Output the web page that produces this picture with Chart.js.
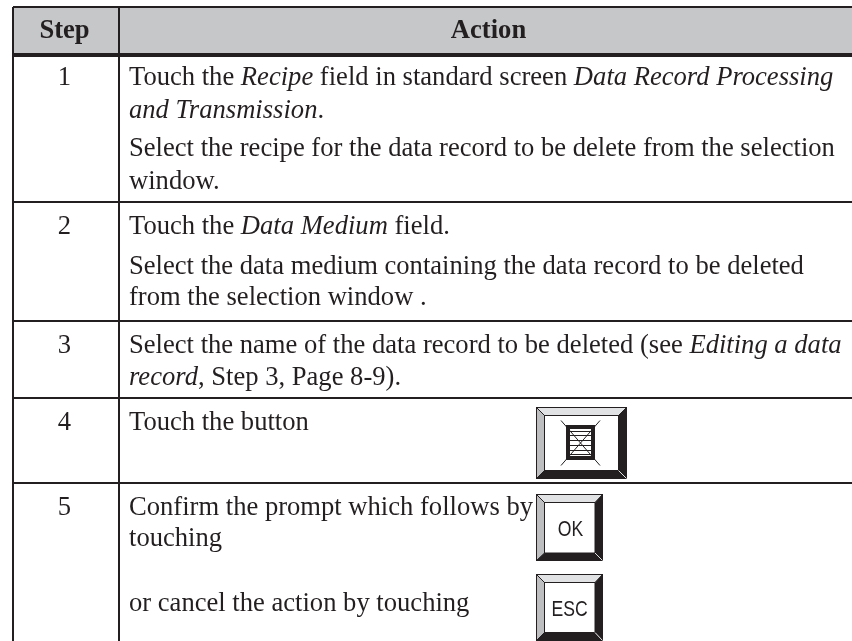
<!DOCTYPE html>
<html>
<head>
<meta charset="utf-8">
<title>Step / Action</title>
<script src="https://cdn.jsdelivr.net/npm/chart.js@4"></script>
<style>
  body { margin: 0; background: #fff; }
  canvas { display: block; }
</style>
</head>
<body>
<canvas id="table" width="852" height="641"></canvas>
<script>
// Contents of the table (*...* marks italic text)
const headers = ['Step', 'Action'];
const steps = ['1', '2', '3', '4', '5'];
const actions1 = [
    'Touch the *Recipe* field in standard screen *Data Record Processing*',
    '*and Transmission*.',
    'Select the recipe for the data record to be delete from the selection',
    'window.'
];
const actions2 = [
    'Touch the *Data Medium* field.',
    'Select the data medium containing the data record to be deleted',
    'from the selection window .'
];
const actions3 = [
    'Select the name of the data record to be deleted (see *Editing a data*',
    '*record*, Step 3, Page 8-9).'
];
const actions4 = ['Touch the button'];
const actions5 = [
    'Confirm the prompt which follows by',
    'touching',
    'or cancel the action by touching'
];
const buttonLabels = ['OK', 'ESC'];

// Page layout in pixels of the scanned page
const columnEdges = [13, 119];
const rowEdges = [7, 55, 202, 321, 398, 483];
const headerBaseline = 37.5;
const stepBaselines = [84.5, 233.5, 352.5, 429.5, 514.5];
const actionBaselines = [
    [84.5, 117.5, 155.5, 188.5],
    [233.5, 273.5, 304.5],
    [352.5, 384.5],
    [429.5],
    [514.5, 545.5, 611]
];
const INK = '#231f20';
const FONT = '"Liberation Serif"';
const FONT_SIZE = 26.6;

const rows = [actions1, actions2, actions3, actions4, actions5];

// Writes a line, switching to italic for the parts between asterisks
function drawRuns(ctx, text, x, y) {
    text.split('*').forEach((part, i) => {
        ctx.font = (i % 2 ? 'italic ' : '') + FONT_SIZE + 'px ' + FONT;
        ctx.fillText(part, x, y);
        x += ctx.measureText(part).width;
    });
}

function bevelButton(ctx, sx, sy, o, n, icon) {
    const X = v => sx.getPixelForValue(v);
    const Y = v => sy.getPixelForValue(v);
    const poly = (pts, color) => {
        ctx.beginPath();
        pts.forEach((p, i) => i ? ctx.lineTo(X(p[0]), Y(p[1])) : ctx.moveTo(X(p[0]), Y(p[1])));
        ctx.closePath();
        ctx.fillStyle = color;
        ctx.fill();
    };
    poly([[o.l, o.t], [o.r, o.t], [n.r, n.t], [n.l, n.t]], '#e1e2e3'); // top
    poly([[o.l, o.t], [n.l, n.t], [n.l, n.b], [o.l, o.b]], '#bcbec0'); // left
    poly([[o.r, o.t], [o.r, o.b], [n.r, n.b], [n.r, n.t]], INK);       // right
    poly([[o.l, o.b], [n.l, n.b], [n.r, n.b], [o.r, o.b]], INK);       // bottom
    ctx.strokeStyle = INK;
    ctx.lineWidth = 1;
    ctx.strokeRect(X(o.l), Y(o.t), X(o.r) - X(o.l), Y(o.b) - Y(o.t));
    ctx.strokeRect(X(n.l), Y(n.t), X(n.r) - X(n.l), Y(n.b) - Y(n.t));
    [[o.l, o.t, n.l, n.t], [o.r, o.t, n.r, n.t], [o.l, o.b, n.l, n.b], [o.r, o.b, n.r, n.b]].forEach(d => {
        ctx.strokeStyle = d[3] === n.b && d[2] === n.r ? '#e1e2e3' : INK;
        ctx.beginPath();
        ctx.moveTo(X(d[0]), Y(d[1]));
        ctx.lineTo(X(d[2]), Y(d[3]));
        ctx.stroke();
    });
    if (icon) icon(X, Y);
}

// Narrowed sans text for the button captions
function buttonLabel(ctx, text, x, y) {
    ctx.save();
    ctx.translate(x, y);
    ctx.scale(0.8, 1);
    ctx.fillText(text, 0, 0);
    ctx.restore();
}

const tablePlugin = {
    id: 'tableText',
    afterDraw(chart) {
        const { ctx, scales: { x, y } } = chart;
        ctx.save();
        ctx.fillStyle = INK;
        ctx.textBaseline = 'alphabetic';

        // header
        ctx.textAlign = 'center';
        ctx.font = 'bold ' + FONT_SIZE + 'px ' + FONT;
        ctx.fillText(headers[0], x.getPixelForValue(64.5), y.getPixelForValue(headerBaseline));
        ctx.fillText(headers[1], x.getPixelForValue(488.5), y.getPixelForValue(headerBaseline));

        // step numbers
        ctx.font = FONT_SIZE + 'px ' + FONT;
        steps.forEach((s, i) => ctx.fillText(s, x.getPixelForValue(64.5), y.getPixelForValue(stepBaselines[i])));

        // action text
        ctx.textAlign = 'left';
        rows.forEach((lines, i) => {
            lines.forEach((line, j) => {
                drawRuns(ctx, line, x.getPixelForValue(129), y.getPixelForValue(actionBaselines[i][j]));
            });
        });

        // delete button with its crossed out icon
        bevelButton(ctx, x, y,
            { l: 536.5, t: 407.5, r: 626.5, b: 478.5 },
            { l: 544.5, t: 415.5, r: 618.5, b: 470.5 },
            (X, Y) => {
                ctx.strokeStyle = INK;
                ctx.lineWidth = 4;
                ctx.strokeRect(X(568), Y(427), X(593) - X(568), Y(458) - Y(427));
                ctx.lineWidth = 1;
                [431, 435, 440, 445, 450, 454].forEach(v => {
                    ctx.beginPath();
                    ctx.moveTo(X(570), Y(v) + 0.5);
                    ctx.lineTo(X(591), Y(v) + 0.5);
                    ctx.stroke();
                });
                ctx.beginPath();
                ctx.moveTo(X(561), Y(420.5));
                ctx.lineTo(X(600), Y(465.5));
                ctx.moveTo(X(600), Y(420.5));
                ctx.lineTo(X(561), Y(465.5));
                ctx.stroke();
            });

        // OK and ESC buttons
        bevelButton(ctx, x, y,
            { l: 536.5, t: 494.5, r: 602.5, b: 560.5 },
            { l: 544.5, t: 502.5, r: 595, b: 553 });
        bevelButton(ctx, x, y,
            { l: 536.5, t: 574.5, r: 602.5, b: 640.5 },
            { l: 544.5, t: 582.5, r: 595, b: 632.5 });
        ctx.fillStyle = INK;
        ctx.textAlign = 'center';
        ctx.font = '22px "Liberation Sans"';
        buttonLabel(ctx, buttonLabels[0], x.getPixelForValue(570.5), y.getPixelForValue(536));
        buttonLabel(ctx, buttonLabels[1], x.getPixelForValue(569.5), y.getPixelForValue(615.5));
        ctx.restore();
    }
};

new Chart(document.getElementById('table'), {
    type: 'scatter',
    data: {
        datasets: [{
            // grey header band
            data: [{ x: columnEdges[0], y: rowEdges[0] }, { x: 852, y: rowEdges[0] }],
            showLine: true,
            pointRadius: 0,
            borderWidth: 0,
            backgroundColor: '#c5c7c9',
            fill: { value: rowEdges[1] }
        }]
    },
    options: {
        responsive: false,
        animation: false,
        layout: { padding: { left: columnEdges[0], top: rowEdges[0], right: 0, bottom: 0 } },
        plugins: { legend: { display: false }, tooltip: { enabled: false } },
        scales: {
            x: {
                type: 'linear',
                min: columnEdges[0],
                max: 852,
                afterBuildTicks: axis => { axis.ticks = columnEdges.map(value => ({ value })); },
                ticks: { display: false, autoSkip: false },
                border: { display: false },
                grid: { z: 1, color: INK, lineWidth: 2, drawTicks: false, tickLength: 0 }
            },
            y: {
                type: 'linear',
                reverse: true,
                min: rowEdges[0],
                max: 641,
                afterBuildTicks: axis => { axis.ticks = rowEdges.map(value => ({ value })); },
                ticks: { display: false, autoSkip: false },
                border: { display: false },
                grid: {
                    z: 1,
                    color: INK,
                    lineWidth: ctx => (ctx.tick && ctx.tick.value === rowEdges[1] ? 4 : 2),
                    drawTicks: false,
                    tickLength: 0
                }
            }
        }
    },
    plugins: [tablePlugin]
});
</script>
</body>
</html>
